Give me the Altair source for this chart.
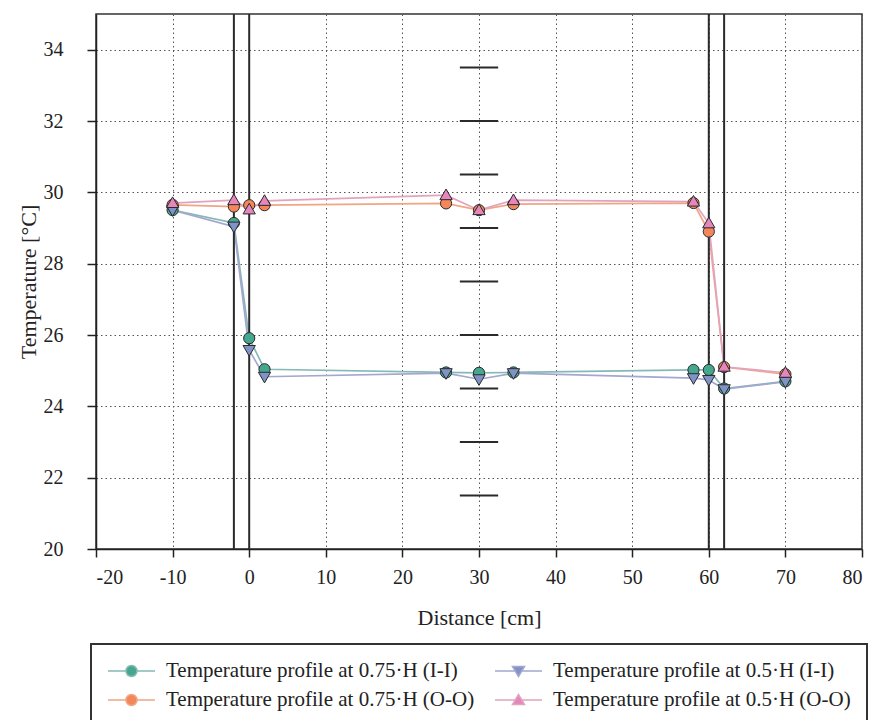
import altair as alt
import pandas as pd

# ---- data ----
x_pos = [-10, -2, 0, 2, 25.7, 30, 34.5, 58, 60, 62, 70]
t_075_ii = [29.50, 29.14, 25.91, 25.04, 24.95, 24.94, 24.95, 25.02, 25.02, 24.50, 24.70]
t_075_oo = [29.65, 29.60, 29.64, 29.64, 29.69, 29.50, 29.67, 29.70, 28.90, 25.10, 24.90]
t_05_ii = [29.50, 29.04, 25.58, 24.83, 24.93, 24.76, 24.93, 24.79, 24.74, 24.48, 24.69]
t_05_oo = [29.70, 29.78, 29.52, 29.76, 29.92, 29.50, 29.78, 29.74, 29.13, 25.11, 24.94]

# legend is filled column by column: first column (0.75·H), second column (0.5·H)
series_names = [
    "Temperature profile at 0.75·H (I-I)",
    "Temperature profile at 0.75·H (O-O)",
    "Temperature profile at 0.5·H (I-I)",
    "Temperature profile at 0.5·H (O-O)",
]
series_values = [t_075_ii, t_075_oo, t_05_ii, t_05_oo]
draw_order = [0, 1, 2, 3]

wall_x = [-2, 0, 60, 62]
gauge_y = [21.5, 23, 24.5, 26, 27.5, 29, 30.5, 32, 33.5]
gauge_x0 = [27.5] * len(gauge_y)
gauge_x1 = [32.5] * len(gauge_y)

x_ticks = [-20, -10, 0, 10, 20, 30, 40, 50, 60, 70, 80]
y_ticks = [20, 22, 24, 26, 28, 30, 32, 34]

# ---- styles ----
marker_fill = ["#45a88e", "#f4875a", "#8093c6", "#e586bd"]
line_cols = ["#86b9b6", "#f0a585", "#a2a8cf", "#e2a3bf"]
marker_shapes = [
    "circle",
    "circle",
    "M-1.1,-0.8L1.1,-0.8L0,1.1Z",
    "M-1.1,0.8L1.1,0.8L0,-1.1Z",
]
CIRC = "M-1,0H0.8M1.9,0H3.7M1.9,0A0.55,0.55 0 1,1 0.8,0A0.55,0.55 0 1,1 1.9,0Z"
legend_paths = [
    CIRC,
    CIRC,
    "M-1,0H1.02M1.68,0H3.7M0.75,-0.45L1.95,-0.45L1.35,0.55Z",
    "M-1,0H1.02M1.68,0H3.7M0.75,0.45L1.95,0.45L1.35,-0.55Z",
]

rows = []
for k in draw_order:
    for xv, tv in zip(x_pos, series_values[k]):
        rows.append({"series": series_names[k], "x": xv, "T": tv, "ord": draw_order.index(k)})
df = pd.DataFrame(rows)

walls = pd.DataFrame({"x": wall_x})
gauge = pd.DataFrame({"y": gauge_y, "x0": gauge_x0, "x1": gauge_x1})

FONT = "Liberation Serif"

xscale = alt.Scale(domain=[-20, 80], nice=False)
yscale = alt.Scale(domain=[20, 35], nice=False, zero=False)

xenc = alt.X("x:Q", scale=xscale,
             axis=alt.Axis(values=x_ticks, title="Distance [cm]", tickSize=8,
                           labelPadding=10, titlePadding=20, labelExpr="datum.value + ''"))
yenc = alt.Y("T:Q", scale=yscale,
             axis=alt.Axis(values=y_ticks, title="Temperature [°C]", tickSize=9,
                           labelPadding=24, titlePadding=3, labelExpr="datum.value + ''"))

lines = alt.Chart(df).mark_line(strokeWidth=1.7).encode(
    x=xenc, y=yenc,
    color=alt.Color("series:N", scale=alt.Scale(domain=series_names, range=line_cols), legend=None),
    order="x:Q",
)

wall_rules = alt.Chart(walls).mark_rule(color="#2a2a2a", strokeWidth=2).encode(
    x=alt.X("x:Q", scale=xscale)
)

gauge_rules = alt.Chart(gauge).mark_rule(color="#2a2a2a", strokeWidth=2).encode(
    x=alt.X("x0:Q", scale=xscale), x2="x1:Q", y=alt.Y("y:Q", scale=yscale)
)

points = alt.Chart(df).mark_point(filled=True, size=125, stroke="#2a2a2a", strokeWidth=1, opacity=1).encode(
    x=xenc, y=yenc,
    fill=alt.Fill("series:N", scale=alt.Scale(domain=series_names, range=marker_fill), legend=None),
    shape=alt.Shape("series:N", scale=alt.Scale(domain=series_names, range=marker_shapes), legend=None),
    order="ord:Q",
)

leg = alt.Legend(
    title=None, orient="none", legendX=-5, legendY=630, columns=2,
    columnPadding=17, rowPadding=8, padding=16,
    strokeColor="#333333", fillColor="white",
    labelFont=FONT, labelFontSize=21, labelColor="#222222", labelLimit=600, labelOffset=37,
    symbolSize=400, symbolStrokeWidth=1.5, symbolOpacity=1,
)

legend_layer = alt.Chart(df).mark_point(filled=True, opacity=0).encode(
    x=xenc, y=yenc,
    fill=alt.Fill("series:N", scale=alt.Scale(domain=series_names, range=marker_fill), legend=leg),
    stroke=alt.Stroke("series:N", scale=alt.Scale(domain=series_names, range=line_cols), legend=leg),
    shape=alt.Shape("series:N", scale=alt.Scale(domain=series_names, range=legend_paths), legend=leg),
)

chart = alt.layer(lines, wall_rules, gauge_rules, points, legend_layer).resolve_scale(
    color="independent", fill="independent", shape="independent", stroke="independent"
).properties(
    width=766, height=535,
    padding={"left": 96, "top": 14, "right": 12, "bottom": 171},
    autosize=alt.AutoSizeParams(type="none"),
    background="white",
).configure_view(
    stroke="#333333", strokeWidth=1.5
).configure_axis(
    grid=True, gridColor="#555555", gridDash=[1.5, 3], gridWidth=1,
    domainColor="#222222", domainWidth=1.5, tickColor="#222222", tickWidth=1.5,
    labelFont=FONT, labelFontSize=20, labelColor="#222222",
    titleFont=FONT, titleFontSize=22, titleFontWeight="normal", titleColor="#222222",
).configure_legend(
    strokeWidth=2
)

chart.save("out.html", embed_options={"renderer": "svg", "actions": False})
